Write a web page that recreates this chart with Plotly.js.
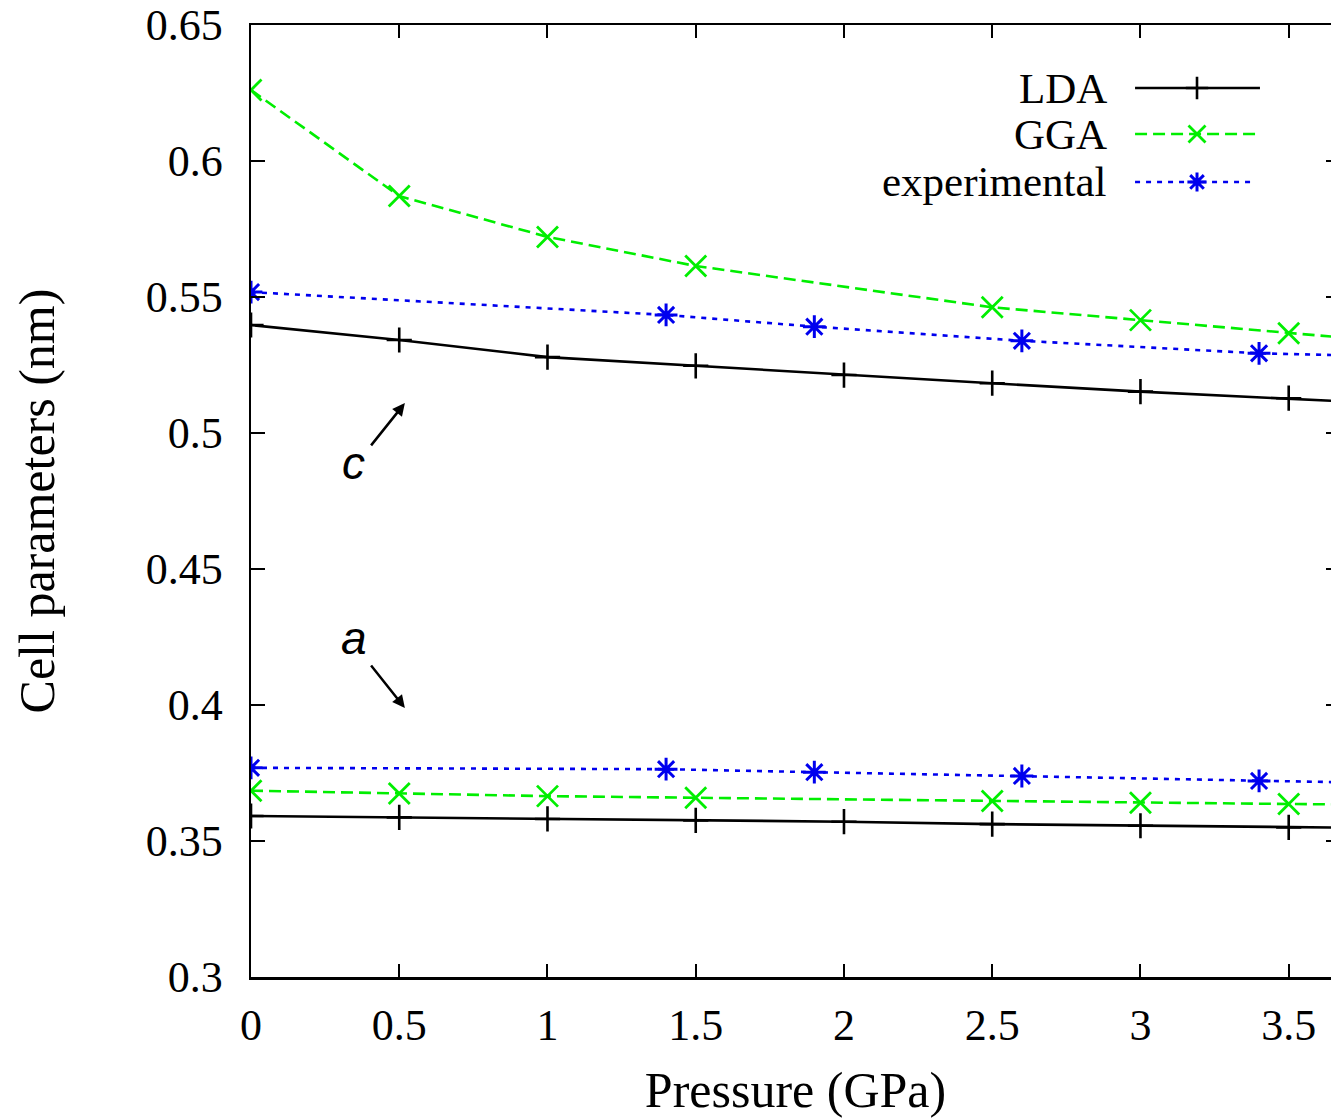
<!DOCTYPE html>
<html>
<head>
<meta charset="utf-8">
<script src="https://cdn.plot.ly/plotly-3.0.1.min.js"></script>
<style>
html,body{margin:0;padding:0;overflow:hidden;background:#fff;}
#chart{width:1345px;height:1118px;}
</style>
</head>
<body>
<div id="chart"></div>
<script>
// ---- data ----
const pressureCalc = [0, 0.5, 1, 1.5, 2, 2.5, 3, 3.5, 4];
const ldaC = [0.5397, 0.5342, 0.5279, 0.5247, 0.5213, 0.5183, 0.5152, 0.5128, 0.5100];
const ldaA = [0.3592, 0.3587, 0.3581, 0.3576, 0.3571, 0.3562, 0.3556, 0.3550, 0.3546];
const pressureGGA = [0, 0.5, 1, 1.5, 2.5, 3, 3.5, 4];
const ggaC = [0.6261, 0.5871, 0.5721, 0.5614, 0.5462, 0.5415, 0.5367, 0.5321];
const ggaA = [0.3685, 0.3675, 0.3665, 0.3659, 0.3647, 0.3641, 0.3636, 0.3632];
const pressureExp = [0, 1.4, 1.9, 2.6, 3.4, 4.2];
const expC = [0.5518, 0.5434, 0.5391, 0.5339, 0.5293, 0.5273];
const expA = [0.3769, 0.3764, 0.3753, 0.3739, 0.3721, 0.3705];
const xTickVals = [0, 0.5, 1, 1.5, 2, 2.5, 3, 3.5];
const xTickText = ["0", "0.5", "1", "1.5", "2", "2.5", "3", "3.5"];
const yTickVals = [0.3, 0.35, 0.4, 0.45, 0.5, 0.55, 0.6, 0.65];
const yTickText = ["0.3", "0.35", "0.4", "0.45", "0.5", "0.55", "0.6", "0.65"];
const seriesNames = ["LDA", "GGA", "experimental"];

// ---- styles ----
const serif = "Liberation Serif, Times New Roman, serif";
const sLDA = {line:{color:"#000000", width:2.6, dash:"solid"},
  marker:{symbol:"cross-thin", size:18, color:"#000000", line:{color:"#000000", width:2.6}}};
const sGGA = {line:{color:"#00ee00", width:2.6, dash:"12px,6px"},
  marker:{symbol:"x-thin", size:21, color:"#00ee00", line:{color:"#00ee00", width:2.8}}};
const sEXP = {line:{color:"#0000ee", width:2.6, dash:"5px,6px"},
  marker:{symbol:"asterisk-open", size:19, color:"#0000ee", line:{color:"#0000ee", width:3}}};
const sLDAleg = {line:sLDA.line, marker:Object.assign({}, sLDA.marker, {size:16})};
const sGGAleg = {line:sGGA.line, marker:Object.assign({}, sGGA.marker, {size:17})};
const sEXPleg = {line:sEXP.line, marker:Object.assign({}, sEXP.marker, {size:16})};

function tr(x, y, s){
  return {x:x, y:y, type:"scatter", mode:"lines+markers", showlegend:false,
    line:s.line, marker:s.marker, cliponaxis:true, hoverinfo:"x+y"};
}

const traces = [
  tr(pressureCalc, ldaC, sLDA), tr(pressureCalc, ldaA, sLDA),
  tr(pressureGGA, ggaC, sGGA), tr(pressureGGA, ggaA, sGGA),
  tr(pressureExp, expC, sEXP), tr(pressureExp, expA, sEXP)
];

// ---- custom legend (text left, sample right), on a hidden 0..1 overlay axis ----
const legY = [0.9338, 0.8855, 0.8351];
const legX0 = 0.8118, legX1 = [0.9265, 0.9265, 0.9219], legXm = 0.8687, legXt = 0.7842;
const legStyles = [sLDAleg, sGGAleg, sEXPleg];
legStyles.forEach((s, i) => {
  traces.push({x:[legX0, legXm, legX1[i]], y:[legY[i], legY[i], legY[i]],
    xaxis:"x2", yaxis:"y2", type:"scatter", mode:"lines", showlegend:false,
    line:s.line, hoverinfo:"skip"});
  traces.push({x:[legXm], y:[legY[i]], xaxis:"x2", yaxis:"y2", type:"scatter",
    mode:"markers", showlegend:false, marker:s.marker, hoverinfo:"skip"});
});

const annotations = seriesNames.map((n, i) => ({
  text:n, xref:"paper", yref:"paper", x:legXt + 0.003, y:legY[i],
  xanchor:"right", yanchor:"middle", showarrow:false, borderpad:0,
  font:{family:serif, size:43, color:"#000"}
}));

const labelFont = {family:"Liberation Sans, Arial, sans-serif", size:46, color:"#000", style:"italic"};
annotations.push({text:"<i>c</i>", xref:"x", yref:"y", x:0.346, y:0.4890, showarrow:false,
  xanchor:"center", yanchor:"middle", font:labelFont});
annotations.push({text:"<i>a</i>", xref:"x", yref:"y", x:0.346, y:0.4245, showarrow:false,
  xanchor:"center", yanchor:"middle", font:labelFont});
annotations.push({text:"", xref:"x", yref:"y", axref:"x", ayref:"y",
  x:0.519, y:0.5110, ax:0.401, ay:0.4949, showarrow:true,
  arrowhead:2, arrowsize:1, arrowwidth:2.5, arrowcolor:"#000", standoff:0, startstandoff:0});
annotations.push({text:"", xref:"x", yref:"y", axref:"x", ayref:"y",
  x:0.519, y:0.3989, ax:0.401, ay:0.4151, showarrow:true,
  arrowhead:2, arrowsize:1, arrowwidth:2.5, arrowcolor:"#000", standoff:0, startstandoff:0});

const layout = {
  width:1345, height:1118,
  margin:{l:251, r:5, t:25, b:141},
  paper_bgcolor:"#fff", plot_bgcolor:"#fff",
  showlegend:false,
  font:{family:serif, size:44, color:"#000"},
  xaxis:{
    range:[0, 3.673], tickvals:xTickVals, ticktext:xTickText,
    ticks:"inside", ticklen:13, tickwidth:2, tickcolor:"#000",
    showline:true, linewidth:2.5, linecolor:"#000", mirror:"ticks",
    showgrid:false, zeroline:false, ticklabelstandoff:8,
    tickfont:{family:serif, size:44, color:"#000"},
    title:{text:"Pressure (GPa)", font:{family:serif, size:50, color:"#000"}, standoff:32},
    automargin:false
  },
  yaxis:{
    range:[0.3, 0.65], tickvals:yTickVals, ticktext:yTickText,
    ticks:"inside", ticklen:14, tickwidth:2, tickcolor:"#000",
    showline:true, linewidth:2.5, linecolor:"#000", mirror:"ticks",
    showgrid:false, zeroline:false, ticklabelstandoff:17,
    tickfont:{family:serif, size:44, color:"#000"},
    title:{text:"Cell parameters (nm)", font:{family:serif, size:50, color:"#000"}, standoff:75},
    automargin:false
  },
  xaxis2:{overlaying:"x", range:[0,1], visible:false, fixedrange:true},
  yaxis2:{overlaying:"y", range:[0,1], visible:false, fixedrange:true},
  annotations:annotations
};

Plotly.newPlot("chart", traces, layout, {staticPlot:true, displayModeBar:false});
</script>
</body>
</html>
